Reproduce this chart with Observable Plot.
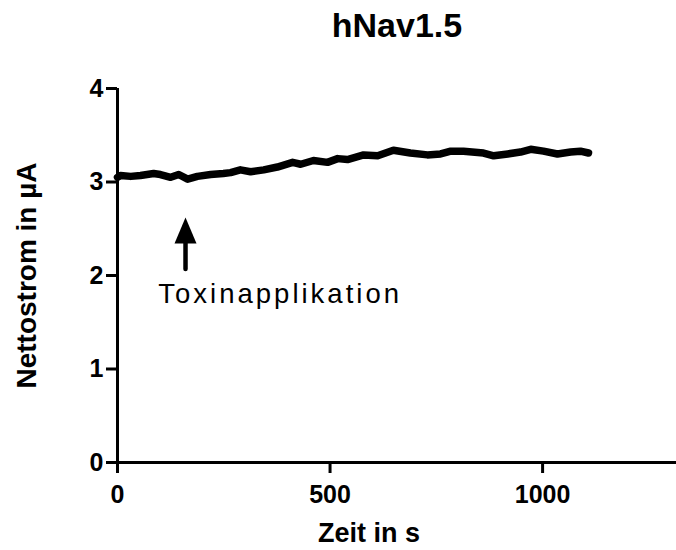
<!DOCTYPE html>
<html><head><meta charset="utf-8">
<script src="https://cdn.jsdelivr.net/npm/d3@7"></script>
<script src="https://cdn.jsdelivr.net/npm/@observablehq/plot@0.6"></script>
<style>body{margin:0;background:#fff}</style>
</head><body><div id="chart"></div>
<script>
// Data
const times = [0, 7, 31, 54, 85, 101, 125, 144, 165, 188, 219, 249, 266, 289, 313, 344, 376, 412, 431, 461, 494, 518, 541, 579, 612, 649, 689, 729, 760, 784, 814, 861, 885, 918, 948, 972, 1002, 1035, 1066, 1089, 1108];
const currents = [3.05, 3.07, 3.06, 3.07, 3.09, 3.08, 3.05, 3.08, 3.03, 3.06, 3.08, 3.09, 3.10, 3.13, 3.11, 3.13, 3.16, 3.21, 3.19, 3.23, 3.21, 3.25, 3.24, 3.29, 3.28, 3.34, 3.31, 3.29, 3.30, 3.33, 3.33, 3.31, 3.28, 3.30, 3.32, 3.35, 3.33, 3.30, 3.32, 3.33, 3.31];
const xTicks = [0, 500, 1000];
const yTicks = [0, 1, 2, 3, 4];
const xDomain = [0, 1315];
const yDomain = [0, 4];
const titleText = "hNav1.5";
const xLabel = "Zeit in s";
const yLabel = "Nettostrom in µA";
const annotationText = ["Toxinapplikation"];
const annotationX = [96];
const annotationY = [1.71];
const arrowX = [160];
const arrowTail = [2.07];
const arrowBase = [2.40];
const arrowTip = [2.62];

const series = times.map((t, i) => ({t, v: currents[i]}));
const annotation = annotationText.map((s, i) => ({s, x: annotationX[i], y: annotationY[i]}));
const arrows = arrowX.map((x, i) => ({x, y1: arrowTail[i], y2: arrowBase[i], tip: arrowTip[i]}));

const headSymbol = {
  draw(ctx) {
    ctx.moveTo(0, 0);
    ctx.lineTo(11, 26);
    ctx.lineTo(-11, 26);
    ctx.closePath();
  }
};

const font = "Liberation Sans, Arial, Helvetica, sans-serif";
const fmt = d3.format("d");

const chart = Plot.plot({
  width: 676,
  height: 550,
  marginLeft: 117,
  marginRight: 0,
  marginTop: 88,
  marginBottom: 88,
  x: {domain: xDomain},
  y: {domain: yDomain},
  style: {fontFamily: font, background: "white", color: "black"},
  marks: [
    Plot.ruleY([0], {stroke: "black", strokeWidth: 3}),
    Plot.ruleX([0], {stroke: "black", strokeWidth: 3}),
    Plot.axisX(xTicks, {tickSize: 11, tickPadding: 12, strokeWidth: 3, fontSize: 25, fontWeight: "bold", tickFormat: fmt, label: null}),
    Plot.axisY(yTicks, {tickSize: 11, tickPadding: 3, strokeWidth: 3, fontSize: 25, fontWeight: "bold", tickFormat: fmt, label: null}),
    Plot.line(series, {x: "t", y: "v", stroke: "black", strokeWidth: 7.5, strokeLinejoin: "round", strokeLinecap: "round"}),
    Plot.link(arrows, {x1: "x", x2: "x", y1: "y1", y2: "y2", stroke: "black", strokeWidth: 4.5, strokeLinecap: "round"}),
    Plot.dot(arrows, {x: "x", y: "tip", symbol: headSymbol, fill: "black", stroke: "none"}),
    Plot.text(annotation, {x: "x", y: "y", text: "s", textAnchor: "start", lineAnchor: "bottom", fontSize: 27.5, fill: "black"}),
    Plot.text([titleText], {frameAnchor: "top", lineAnchor: "bottom", dy: -52, fontSize: 34, fontWeight: "bold", fill: "black"}),
    Plot.text([xLabel], {frameAnchor: "bottom", lineAnchor: "bottom", dx: -28, dy: 79, fontSize: 27, fontWeight: "bold", fill: "black"}),
    Plot.text([yLabel], {frameAnchor: "left", textAnchor: "middle", rotate: -90, lineAnchor: "middle", dx: -90, fontSize: 28, fontWeight: "bold", fill: "black"})
  ]
});

d3.select(chart).selectAll("text")
  .filter(function() { return this.textContent === annotationText[0]; })
  .attr("letter-spacing", "3px");

document.getElementById("chart").appendChild(chart);
</script>
</body></html>
